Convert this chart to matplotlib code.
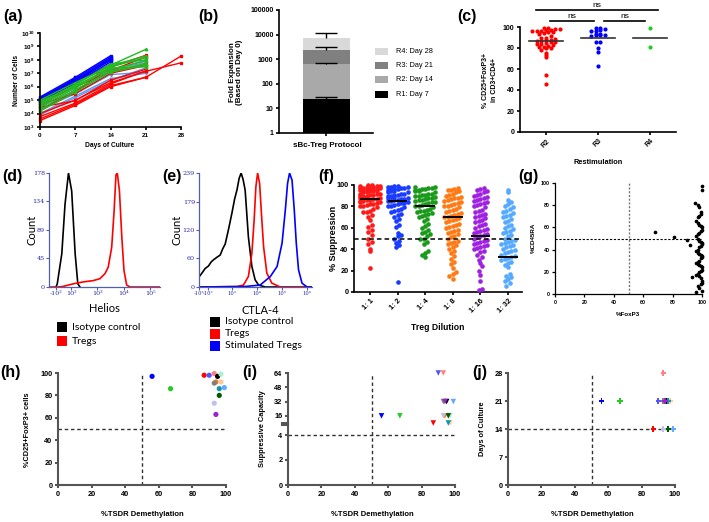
import matplotlib
matplotlib.use('Agg')
import matplotlib.pyplot as plt
import numpy as np
from matplotlib.patches import Rectangle

W, H = 709, 522

plt.rcParams['font.family'] = ['Liberation Sans', 'DejaVu Sans']
plt.rcParams['font.weight'] = 'bold'
plt.rcParams['mathtext.fontset'] = 'custom'
plt.rcParams['mathtext.rm'] = 'Liberation Sans:bold'
plt.rcParams['mathtext.bf'] = 'Liberation Sans:bold'
plt.rcParams['mathtext.default'] = 'rm'

# ---------------- (a) growth curves ----------------
a_days_14 = [0, 7, 14]
a_days_21 = [0, 7, 14, 21]
a_days_28 = [0, 7, 14, 21, 28]
a_blue = [[1.7e5, 5e6, 2e8], [1.4e5, 4e6, 1.6e8], [1.2e5, 3e6, 1.3e8],
          [1e5, 2.5e6, 1e8], [1.3e5, 3.5e6, 9e7], [9e4, 2e6, 7e7],
          [1.1e5, 2.2e6, 1.1e8], [8e4, 1.8e6, 5e7]]
a_green = [[5e4, 1.5e6, 4e7, 6e8], [4e4, 1e6, 3e7, 1.5e8], [8e4, 1.2e6, 2e7, 8e7],
           [2e4, 6e5, 1.5e7, 5e7], [3e4, 8e5, 2.5e7, 3e7], [6e4, 1.4e6, 5e7, 1e8],
           [1.5e4, 4e5, 1.2e7, 4e7], [1e5, 2e6, 3.5e7, 2e8]]
a_lightblue = [[1e4, 2e5, 4e6, 1e7], [2e4, 3e5, 8e6, 1.2e7], [4e4, 5e5, 1.5e7, 1e8],
               [8e3, 1.5e5, 3e6, 2.5e7], [3e4, 4e5, 2e7, 6e7]]
a_red = [[4e3, 5e4, 1.2e6, 5e6], [6e3, 6e4, 1.6e6, 1.5e7], [3e4, 9e4, 3e6, 2e7],
         [5e4, 3e5, 1e7, 3.8e7], [3e4, 5e6, 1.6e7, 1.6e8], [2e4, 4e5, 2.8e7, 2.2e8],
         [6e4, 1e6, 1.2e7, 5e7]]
a_red_28 = [[3e3, 4e4, 1e6, 5e6, 1.9e8], [1e4, 1e5, 2e6, 1.4e7, 6e7]]

# ---------------- (b) fold expansion ----------------
b_names = ['R1: Day 7', 'R2: Day 14', 'R3: Day 21', 'R4: Day 28']
b_tops = [25, 650, 2450, 7500]
b_err_tops = [28, 720, 3250, 11500]
b_colors = ['#000000', '#a9a9a9', '#808080', '#d9d9d9']

# ---------------- (c) purity per restimulation ----------------
c_groups = ['R2', 'R3', 'R4']
c_r2 = [99, 99, 98, 98, 97, 97, 96, 96, 96, 95, 95, 94, 93, 91, 90, 90, 89, 88, 88,
        87, 87, 86, 86, 85, 84, 84, 83, 82, 81, 81, 80, 80, 78, 75, 73, 71, 54, 46]
c_r3 = [99, 99, 98, 97, 96, 96, 93, 93, 92, 92, 92, 91, 86, 86, 80, 76, 63]
c_r4 = [99, 81]
c_centre = [87, 90, 90]
c_colors = ['#ff0000', '#0000ff', '#22cc22']

# ---------------- (d) Helios histogram (logicle display positions) ----------------
d_iso_pos = [1.46, 1.51, 1.68, 1.80, 1.93, 2.05, 2.18, 2.28, 2.36]
d_iso_count = [0, 5, 52, 129, 178, 150, 52, 5, 0]
d_treg_pos = [1.2, 1.55, 1.74, 2.11, 2.49, 2.86, 3.11, 3.30, 3.42, 3.55, 3.64,
              3.71, 3.76, 3.84, 3.93, 4.01, 4.11, 4.24, 5.36]
d_treg_count = [0, 0, 1, 5, 8, 10, 13, 21, 31, 62, 119, 175, 178, 150, 77, 26, 3, 0, 0]
d_xtick_pos = [1.46, 2.03, 3, 4, 5]
d_xtick_labels = ['-10²', '10²', '10³', '10⁴', '10⁵']
d_yticks = [0, 45, 89, 134, 178]

# ---------------- (e) CTLA-4 histogram ----------------
e_iso_pos = [1.67, 1.80, 1.92, 2.05, 2.15, 2.25, 2.38, 2.52, 2.62, 2.72, 2.85,
             2.99, 3.10, 3.19, 3.28, 3.36, 3.44, 3.52, 3.65, 3.79, 3.92, 4.06, 4.33, 6.2]
e_iso_count = [21, 30, 39, 44, 52, 57, 62, 67, 80, 90, 120, 155, 185, 203, 228, 239,
               225, 203, 105, 43, 15, 4, 0, 0]
e_treg_pos = [1.67, 3.2, 3.45, 3.65, 3.79, 3.88, 3.95, 4.02, 4.10, 4.19, 4.26,
              4.39, 4.59, 4.93, 6.2]
e_treg_count = [0, 1, 4, 22, 71, 140, 210, 239, 217, 140, 84, 29, 8, 0, 0]
e_stim_pos = [1.67, 3.5, 4.12, 4.53, 4.80, 5.00, 5.13, 5.22, 5.30, 5.40, 5.49,
              5.57, 5.66, 5.80, 6.00, 6.2]
e_stim_count = [0, 1, 4, 22, 43, 92, 161, 217, 239, 224, 161, 92, 36, 8, 0, 0]
e_xtick_pos = [1.67, 2.04, 3, 4, 5, 6]
e_xtick_labels = ['-10³', '-10²', '10³', '10⁴', '10⁵', '10⁶']
e_yticks = [0, 60, 120, 179, 239]

# ---------------- (f) suppression per dilution ----------------
f_dilutions = ['1: 1', '1: 2', '1: 4', '1: 8', '1: 16', '1: 32']
f_colors = ['#ff1a1a', '#1a3cff', '#1a9a1a', '#ff7a14', '#a020e0', '#55aaff']
f_1_1 = [100, 100, 99, 99, 99, 98, 98, 98, 97, 97, 97, 96, 96, 96, 95, 95, 95, 94, 94,
         94, 93, 93, 92, 92, 92, 91, 91, 90, 90, 90, 89, 89, 88, 88, 87, 87, 86, 86,
         85, 85, 84, 84, 83, 82, 82, 81, 80, 80, 79, 78, 76, 75, 75, 72, 70, 67, 63,
         61, 58, 56, 53, 50, 47, 45, 40, 38, 22]
f_1_2 = [99, 99, 98, 98, 98, 97, 97, 96, 96, 95, 95, 94, 94, 93, 93, 92, 92, 91, 91,
         90, 90, 89, 89, 88, 88, 87, 87, 86, 86, 85, 85, 84, 83, 83, 82, 81, 80, 80,
         79, 78, 77, 76, 75, 73, 72, 70, 68, 66, 63, 61, 55, 53, 52, 50, 48, 46, 44,
         42, 9]
f_1_4 = [98, 98, 97, 97, 96, 96, 95, 95, 94, 94, 93, 92, 92, 91, 91, 90, 90, 89, 88,
         88, 87, 86, 86, 85, 84, 84, 83, 82, 81, 80, 80, 79, 78, 77, 76, 76, 75, 74,
         73, 72, 71, 70, 68, 66, 64, 62, 60, 58, 56, 55, 54, 52, 50, 50, 47, 45, 38,
         36, 35, 33]
f_1_8 = [97, 96, 95, 95, 94, 93, 92, 91, 90, 89, 88, 88, 87, 86, 85, 84, 83, 82, 81,
         80, 80, 79, 78, 77, 76, 75, 74, 73, 72, 71, 70, 70, 69, 68, 67, 66, 65, 64,
         63, 62, 61, 60, 58, 57, 56, 55, 54, 52, 51, 50, 48, 47, 46, 45, 44, 42, 40,
         38, 36, 34, 31, 28, 26, 22, 19, 17, 15, 12]
f_1_16 = [97, 96, 95, 94, 93, 92, 91, 90, 89, 88, 87, 86, 85, 84, 83, 82, 81, 80, 79,
          77, 76, 75, 73, 72, 71, 70, 69, 67, 66, 65, 64, 63, 62, 60, 59, 58, 57, 56,
          55, 54, 53, 52, 51, 50, 49, 48, 47, 46, 45, 44, 43, 42, 41, 40, 38, 37, 35,
          33, 30, 27, 24, 20, 16, 10, 3, 2]
f_1_32 = [95, 93, 86, 84, 82, 80, 79, 78, 76, 75, 74, 72, 71, 70, 68, 66, 65, 63, 62,
          60, 59, 57, 56, 55, 53, 52, 50, 49, 48, 47, 46, 45, 44, 43, 42, 40, 39, 38,
          37, 36, 35, 34, 33, 32, 31, 30, 28, 27, 25, 23, 17, 15, 14, 12, 10, 8, 6]
f_centre = [87, 85, 80, 70, 52, 33]

# ---------------- (g) FoxP3 vs CD45RA ----------------
g_foxp3 = [68, 81, 90, 92, 93, 95, 96, 97, 98, 99,
           100, 100, 99, 98, 97, 96, 97, 98, 99, 100,
           100, 99, 98, 97, 96, 97, 98, 99, 100, 100,
           99, 98, 97, 96, 97, 98, 99, 100, 100, 99,
           98, 97, 96, 97, 98, 99, 100, 100, 99, 98,
           97, 96, 98, 99, 100, 100, 99, 97, 98, 100]
g_cd45ra = [56, 51, 49, 44, 15, 82, 2, 80, 78, 74,
            97, 94, 72, 70, 69, 66, 64, 62, 61, 60,
            58, 57, 55, 54, 52, 50, 48, 47, 46, 45,
            43, 42, 40, 39, 37, 36, 35, 34, 33, 32,
            30, 29, 28, 27, 26, 25, 24, 22, 21, 20,
            18, 17, 16, 14, 12, 10, 9, 7, 5, 3]

# ---------------- (h-j) per-donor TSDR comparisons ----------------
donor_colors = ['#0000ff', '#22cc22', '#ff0000', '#5555ff', '#ff8080', '#000000',
                '#aaf0d0', '#f07820', '#808080', '#ffc896', '#1496aa', '#64aaff',
                '#005a00', '#c0c0f0', '#a020d0']
donor_tsdr = [56, 67, 87, 90, 93, 95, 97, 94, 93, 97, 96, 99, 96, 93, 94]
donor_cd25 = [97, 86, 98, 98, 99.5, 97, 99, 92, 91, 92, 86, 87, 80, 73, 63]
donor_supp = [16, 16, 8, 64, 64, 32, 16, 16, 32, 8, 8, 32, 16, 16, 32]
donor_days = [21, 21, 14, 21, 28, 21, 21, 21, 21, 21, 21, 14, 14, 14, 21]

fig = plt.figure(figsize=(W / 100, H / 100), dpi=100)


def add_ax(l, t, r, b):
    return fig.add_axes([l / W, 1 - b / H, (r - l) / W, (b - t) / H])


def ftext(x, y, s, **kw):
    kw.setdefault('ha', 'center')
    kw.setdefault('va', 'center')
    fig.text(x / W, 1 - y / H, s, **kw)


def fbox(x, y, w, h, color):
    fig.add_artist(Rectangle((x / W, 1 - (y + h) / H), w / W, h / H,
                             transform=fig.transFigure, color=color, lw=0))


def prism(ax, color='black', lw=1.2, size=5):
    ax.spines[['top', 'right']].set_visible(False)
    for s in ('left', 'bottom'):
        ax.spines[s].set_color(color)
        ax.spines[s].set_linewidth(lw)
    ax.tick_params(length=2.5, width=lw, color=color, labelsize=size, pad=1.5)
    ax.patch.set_alpha(0)


def swarm_x(values, centre, bin_h, dx, max_n=99):
    # put points from the same value band side by side, like a Prism dot plot;
    # crowded bands wrap round onto max_n columns
    vals = np.asarray(values, float)
    bins = np.floor(vals / bin_h)
    xs = np.empty_like(vals)
    for b in np.unique(bins):
        idx = np.where(bins == b)[0]
        idx = idx[np.argsort(vals[idx])]
        n = min(len(idx), max_n)
        cols = np.arange(len(idx)) % n
        xs[idx] = centre + (cols - (n - 1) / 2) * dx
    return xs


# panel letters
for lab, x, y in [('(a)', 3, 17), ('(b)', 198, 17), ('(c)', 457, 17), ('(d)', 2, 177),
                  ('(e)', 162, 177), ('(f)', 318, 176), ('(g)', 518, 177),
                  ('(h)', 0, 373), ('(i)', 242, 372), ('(j)', 472, 373)]:
    ftext(x, y, lab, ha='left', fontsize=11.5)

# ---- (a)
ax = add_ax(40, 33, 181, 127)
for rows, days, col, mk in [(a_lightblue, a_days_21, '#6495ed', 'v'),
                            (a_red, a_days_21, '#ff0000', 's'),
                            (a_red_28, a_days_28, '#ff0000', 's'),
                            (a_blue, a_days_14, '#0000ff', 's'),
                            (a_green, a_days_21, '#22bb22', '^')]:
    for r in rows:
        ax.plot(days, r, color=col, lw=1.0, marker=mk, ms=1.8, clip_on=False)
ax.set_yscale('log')
ax.set_ylim(1e3, 1e10)
ax.set_xlim(0, 28)
ax.set_xticks(a_days_28)
ax.set_yticks([10.0 ** k for k in range(3, 11)],
              [rf'$10^{{{k}}}$' for k in range(3, 11)])
ax.minorticks_off()
prism(ax, size=4.5)
ftext(17, 80, 'Number of Cells', rotation=90, fontsize=4.8)
ftext(110, 146, 'Days of Culture', fontsize=4.8)

# ---- (b)
ax = add_ax(279, 10, 373, 133)
bottoms = [1] + b_tops[:-1]
for top, bot, col in zip(b_tops, bottoms, b_colors):
    ax.bar(0, top - bot, bottom=bot, width=1.0, color=col, lw=0)
ax.vlines([0] * 4, b_tops, b_err_tops, color='black', lw=1.0)
ax.hlines(b_err_tops, -0.23, 0.23, color='black', lw=1.0)
ax.set_yscale('log')
ax.set_ylim(1, 1e5)
ax.set_xlim(-1, 1)
ax.set_xticks([0], [''])
ax.set_yticks([1, 10, 100, 1000, 10000, 100000],
              ['1', '10', '100', '1000', '10000', '100000'])
ax.minorticks_off()
prism(ax, size=5)
ftext(233, 72, 'Fold Expansion', rotation=90, fontsize=5.8)
ftext(240, 72, '(Based on Day 0)', rotation=90, fontsize=5.8)
ftext(327, 146, 'sBc-Treg Protocol', fontsize=5.8)
for i, (name, col) in enumerate(zip(b_names, b_colors)):
    y = 94 - i * 14.3
    fbox(375, y - 3.5, 13, 7, col)
    ftext(396, y, name, ha='left', fontsize=5.3, fontweight='normal')

# ---- (c)
ax = add_ax(520, 27, 676, 132)
for i, (vals, col) in enumerate(zip([c_r2, c_r3, c_r4], c_colors)):
    ax.scatter(swarm_x(vals, i, 3, 0.09), vals, s=9, color=col, lw=0, clip_on=False, zorder=3)
    ax.plot([i - 0.33, i + 0.33], [c_centre[i]] * 2, color='#333333', lw=1.2, zorder=4)
ax.set_xlim(-0.5, 2.5)
ax.set_ylim(0, 100)
ax.set_yticks(range(0, 101, 20))
ax.set_xticks(range(3), c_groups, rotation=45, ha='right', rotation_mode='anchor')
prism(ax, size=5)
for x0, x1, yy in [(-0.19, 2.15, 116), (0.08, 0.92, 105.5), (1.12, 1.9, 105.5)]:
    ax.plot([x0, x1], [yy, yy], color='black', lw=1.2, clip_on=False)
    ax.text((x0 + x1) / 2, yy + 0.8, 'ns', ha='center', va='bottom', fontsize=6,
            fontweight='normal')
ftext(485, 80, '% CD25+FoxP3+', rotation=90, fontsize=5)
ftext(494, 80, 'in CD3+CD4+', rotation=90, fontsize=5)
ftext(598, 162, 'Restimulation', fontsize=5.3)

# ---- (d) & (e) flow histograms
flow_c = '#5060a8'
lab_c = '#2b2ba8'


def flow_axes(ax, ticks, labels, yticks, xsize=4.6):
    ax.spines[['top', 'right']].set_visible(False)
    for s in ('left', 'bottom'):
        ax.spines[s].set_color(flow_c)
        ax.spines[s].set_linewidth(0.9)
    ax.set_xticks(ticks, labels)
    ax.set_yticks(yticks)
    ax.tick_params(length=2, width=0.8, color=flow_c, labelcolor=lab_c,
                   labelsize=4.6, pad=1)
    ax.tick_params(axis='x', labelsize=xsize)
    for t in ax.get_xticklabels() + ax.get_yticklabels():
        t.set_fontfamily('DejaVu Serif')
        t.set_fontweight('normal')
    ax.patch.set_alpha(0)


ax = add_ax(49, 173, 160, 287)
ax.plot(d_iso_pos, d_iso_count, color='black', lw=1.2)
ax.plot(d_treg_pos, d_treg_count, color='#ff0000', lw=1.2)
ax.set_xlim(1.2, 5.36)
ax.set_ylim(0, 178)
flow_axes(ax, d_xtick_pos, d_xtick_labels, d_yticks)
ftext(32, 230, 'Count', rotation=90, fontsize=8, fontweight='normal', family='Lato')
ftext(104, 309, 'Helios', fontsize=8, fontweight='normal', family='Lato')
for i, (name, col) in enumerate(zip(['Isotype control', 'Tregs'], ['black', '#ff0000'])):
    y = 327 + i * 14
    fbox(57, y - 5, 10, 10, col)
    ftext(72, y, name, ha='left', fontsize=7.5, fontweight='normal', family='Lato')

ax = add_ax(199, 173, 312, 287)
ax.plot(e_iso_pos, e_iso_count, color='black', lw=1.2)
ax.plot(e_treg_pos, e_treg_count, color='#ff0000', lw=1.2)
ax.plot(e_stim_pos, e_stim_count, color='#0000ff', lw=1.2)
ax.set_xlim(1.67, 6.2)
ax.set_ylim(0, 239)
flow_axes(ax, e_xtick_pos, e_xtick_labels, e_yticks, xsize=3.8)
ftext(177, 230, 'Count', rotation=90, fontsize=8, fontweight='normal', family='Lato')
ftext(260, 310, 'CTLA-4', fontsize=8, fontweight='normal', family='Lato')
for i, (name, col) in enumerate(zip(['Isotype control', 'Tregs', 'Stimulated Tregs'],
                                    ['black', '#ff0000', '#0000ff'])):
    y = 322 + i * 12
    fbox(210, y - 5, 10, 10, col)
    ftext(225, y, name, ha='left', fontsize=7.5, fontweight='normal', family='Lato')

# ---- (f)
ax = add_ax(354, 185, 522, 292)
for i, vals in enumerate([f_1_1, f_1_2, f_1_4, f_1_8, f_1_16, f_1_32]):
    ax.scatter(swarm_x(vals, i, 5, 0.12, max_n=7), vals, s=11, color=f_colors[i], lw=0,
               clip_on=False, zorder=3)
    ax.plot([i - 0.32, i + 0.32], [f_centre[i]] * 2, color='black', lw=1.4, zorder=4)
ax.axhline(50, color='black', lw=1.1, ls=(0, (3, 2)), zorder=5)
ax.set_xlim(-0.58, 5.51)
ax.set_ylim(0, 100)
ax.set_yticks(range(0, 101, 20))
ax.set_xticks(range(6), f_dilutions, rotation=45, ha='right', rotation_mode='anchor')
prism(ax, size=5.3)
ftext(334, 238, '% Suppression', rotation=90, fontsize=6.5)
ftext(438, 327, 'Treg Dilution', fontsize=6.2)

# ---- (g)
ax = add_ax(555, 183, 702, 294)
ax.scatter(g_foxp3, g_cd45ra, s=7, color='black', lw=0, clip_on=False, zorder=3)
ax.axvline(50, color='#777777', lw=1.0, ls=(0, (1.5, 1.2)))
ax.axhline(50, color='black', lw=0.8, ls=(0, (2, 1.5)))
ax.set_xlim(0, 100)
ax.set_ylim(0, 100)
ax.set_xticks(range(0, 101, 20))
ax.set_yticks(range(0, 101, 20))
prism(ax, lw=0.9, size=3.8)
ftext(533, 238, '%CD45RA', rotation=90, fontsize=4.5)
ftext(628, 315, '%FoxP3', fontsize=4.5)

# ---- (h)
gray = '#555555'
dash = (0, (2.5, 2))
ax = add_ax(58, 373, 226, 485)
ax.scatter(donor_tsdr, donor_cd25, s=14, c=donor_colors, lw=0, clip_on=False, zorder=3)
ax.axvline(50, color='#333333', lw=1.0, ls=dash)
ax.axhline(50, color='#333333', lw=1.0, ls=dash)
ax.set_xlim(0, 100)
ax.set_ylim(0, 100)
ax.set_xticks(range(0, 101, 20))
ax.set_yticks(range(0, 101, 20))
prism(ax, color=gray, lw=1.5, size=5.3)
ftext(28, 430, '%CD25+FoxP3+ cells', rotation=90, fontsize=5.3)
ftext(142, 515, '%TSDR Demethylation', fontsize=5.5)

# ---- (i) broken y axis: 0-4 below, 8-64 above
ax_hi = add_ax(288, 373, 455, 423)
ax_lo = add_ax(288, 425, 455, 485)
ax_hi.scatter(donor_tsdr, donor_supp, s=16, c=donor_colors, marker='v', lw=0,
              clip_on=False, zorder=3)
ax_hi.set_ylim(8, 64)
ax_hi.set_yticks([16, 32, 48, 64])
ax_lo.set_ylim(0, 4.8)
ax_lo.set_yticks([0, 2, 4])
for a in (ax_hi, ax_lo):
    a.set_xlim(0, 100)
    a.axvline(50, color='#333333', lw=1.0, ls=dash)
    prism(a, color=gray, lw=1.5, size=5.3)
ax_lo.axhline(4, color='#333333', lw=1.0, ls=dash)
ax_lo.set_xticks(range(0, 101, 20))
ax_hi.set_xticks([])
ax_hi.spines['bottom'].set_visible(False)
ax_hi.plot([-0.035, 0], [0, 0], transform=ax_hi.transAxes, color=gray, lw=1.5, clip_on=False)
ax_lo.plot([-0.035, 0], [1, 1], transform=ax_lo.transAxes, color=gray, lw=1.5, clip_on=False)
ftext(263, 429, 'Suppressive Capacity', rotation=90, fontsize=5.3)
ftext(372, 515, '%TSDR Demethylation', fontsize=5.5)

# ---- (j)
ax = add_ax(508, 373, 675, 485)
ax.scatter(donor_tsdr, donor_days, s=16, c=donor_colors, marker='P', lw=0,
           clip_on=False, zorder=3)
ax.axvline(50, color='#333333', lw=1.0, ls=dash)
ax.axhline(14, color='#333333', lw=1.0, ls=dash)
ax.set_xlim(0, 100)
ax.set_ylim(0, 28)
ax.set_xticks(range(0, 101, 20))
ax.set_yticks([0, 7, 14, 21, 28])
prism(ax, color=gray, lw=1.5, size=5.3)
ftext(482, 429, 'Days of Culture', rotation=90, fontsize=5.3)
ftext(592, 515, '%TSDR Demethylation', fontsize=5.5)

fig.savefig('out.png', dpi=100)
